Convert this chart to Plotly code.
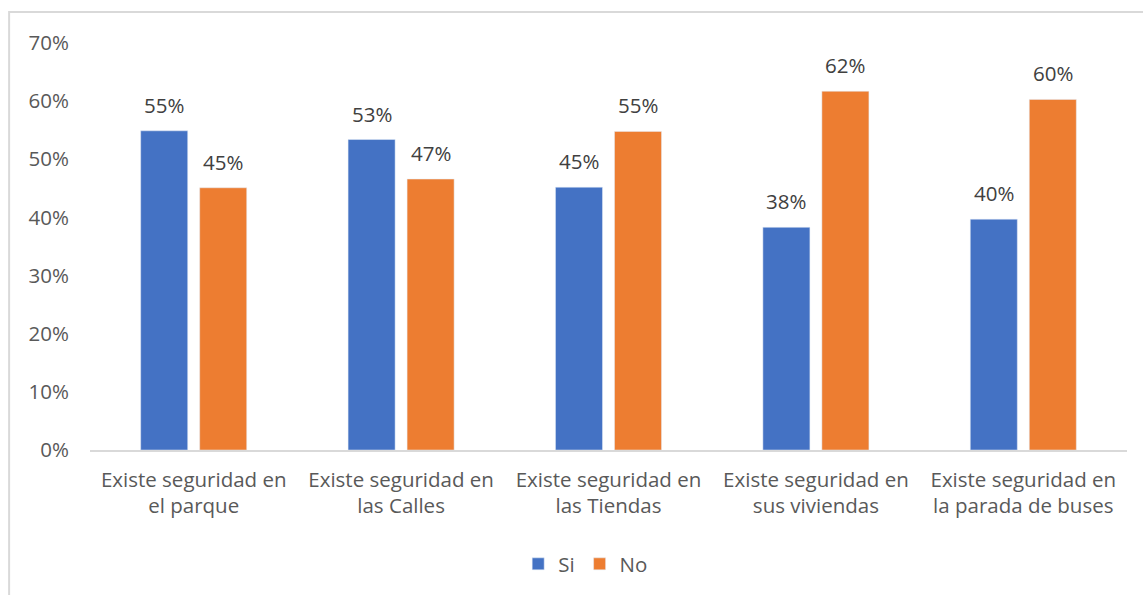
import plotly.graph_objects as go

categories = [
    "Existe seguridad en<br>el parque",
    "Existe seguridad en<br>las Calles",
    "Existe seguridad en<br>las Tiendas",
    "Existe seguridad en<br>sus viviendas",
    "Existe seguridad en<br>la parada de buses",
]
si_values = [0.549, 0.534, 0.452, 0.383, 0.397]
no_values = [0.451, 0.466, 0.548, 0.617, 0.603]
y_ticks = [0, 0.1, 0.2, 0.3, 0.4, 0.5, 0.6, 0.7]
y_tick_labels = ["0%", "10%", "20%", "30%", "40%", "50%", "60%", "70%"]

FONT = "Open Sans"
FS = 20.5
SI_COLOR = "#4472C4"
NO_COLOR = "#ED7D31"

fig = go.Figure()
fig.add_trace(go.Bar(name="Si", x=categories, y=si_values, marker_color=SI_COLOR))
fig.add_trace(go.Bar(name="No", x=categories, y=no_values, marker_color=NO_COLOR))

annotations = []
for values, shift in ((si_values, -29.5), (no_values, 29.5)):
    for c, v in zip(categories, values):
        annotations.append(dict(
            x=c, y=v, xref="x", yref="y", text=f"{round(v * 100):d}%",
            showarrow=False, xshift=shift, yshift=26, yanchor="middle",
            font=dict(size=FS, color="#404040", family=FONT),
        ))

fig.update_layout(
    width=1143, height=595,
    margin=dict(l=90, r=16, t=43, b=144),
    paper_bgcolor="white", plot_bgcolor="white",
    barmode="group", bargap=0.431, bargroupgap=0.203,
    font=dict(family=FONT, size=FS, color="#595959"),
    showlegend=True,
    legend=dict(orientation="h", x=0.478, xanchor="center", y=-0.277, yanchor="middle",
                font=dict(size=FS, color="#595959"), itemwidth=30),
    xaxis=dict(showline=True, linecolor="#D9D9D9", linewidth=2, ticks="",
               showgrid=False, tickfont=dict(size=FS, color="#595959"),
               ticklabelstandoff=10),
    yaxis=dict(range=[0, 0.7], tickvals=y_ticks, ticktext=y_tick_labels,
               showgrid=False, zeroline=False, showline=False, ticks="",
               tickfont=dict(size=FS, color="#595959"), ticklabelstandoff=20),
    annotations=annotations,
    shapes=[dict(type="rect", xref="paper", yref="paper",
                 x0=-0.078, x1=1.2, y0=-0.5, y1=1.076,
                 line=dict(color="#D9D9D9", width=2), fillcolor="rgba(0,0,0,0)",
                 layer="below")],
)

fig.write_html("out.html", config={"displayModeBar": False},
               post_script="document.body.style.margin='0';")
